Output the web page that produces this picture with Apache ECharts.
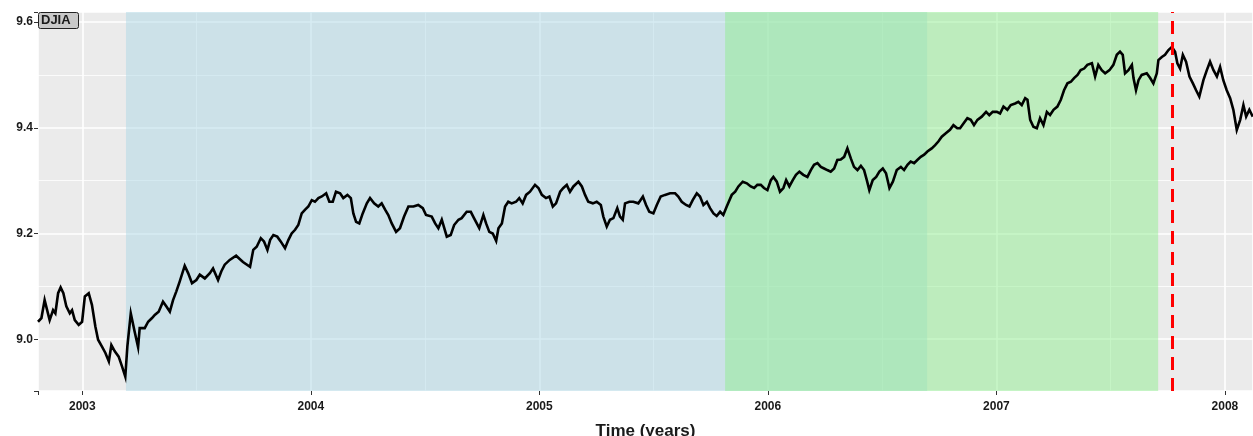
<!DOCTYPE html>
<html>
<head>
<meta charset="utf-8">
<script src="https://cdn.jsdelivr.net/npm/echarts@6/dist/echarts.min.js"></script>
<style>
  html, body { margin: 0; padding: 0; background: #fff; }
  #chart-container { width: 1253px; height: 436px; }
</style>
</head>
<body>
<div id="chart-container"></div>
<script>
// decimal years and log(DJIA)
var years = [
  2002.806, 2002.821, 2002.835, 2002.846, 2002.857, 2002.872, 2002.882, 2002.894, 2002.905, 2002.917,
  2002.930, 2002.945, 2002.955, 2002.967, 2002.984, 2002.999, 2003.011, 2003.028, 2003.042, 2003.057,
  2003.069, 2003.086, 2003.101, 2003.116, 2003.127, 2003.142, 2003.159, 2003.174, 2003.188, 2003.197,
  2003.212, 2003.229, 2003.244, 2003.251, 2003.273, 2003.288, 2003.305, 2003.317, 2003.334, 2003.353,
  2003.368, 2003.383, 2003.397, 2003.411, 2003.426, 2003.448, 2003.463, 2003.480, 2003.499, 2003.514,
  2003.536, 2003.558, 2003.572, 2003.594, 2003.608, 2003.623, 2003.645, 2003.673, 2003.703, 2003.734,
  2003.748, 2003.763, 2003.781, 2003.795, 2003.810, 2003.822, 2003.836, 2003.853, 2003.868, 2003.887,
  2003.902, 2003.916, 2003.931, 2003.945, 2003.960, 2003.975, 2003.989, 2004.004, 2004.018, 2004.033,
  2004.048, 2004.067, 2004.081, 2004.096, 2004.110, 2004.128, 2004.142, 2004.160, 2004.175, 2004.186,
  2004.198, 2004.212, 2004.227, 2004.245, 2004.259, 2004.277, 2004.295, 2004.310, 2004.325, 2004.339,
  2004.354, 2004.373, 2004.390, 2004.408, 2004.427, 2004.449, 2004.470, 2004.490, 2004.504, 2004.529,
  2004.544, 2004.558, 2004.573, 2004.595, 2004.612, 2004.627, 2004.646, 2004.660, 2004.682, 2004.700,
  2004.714, 2004.737, 2004.755, 2004.767, 2004.781, 2004.796, 2004.811, 2004.821, 2004.836, 2004.850,
  2004.864, 2004.879, 2004.898, 2004.912, 2004.927, 2004.942, 2004.959, 2004.981, 2004.996, 2005.011,
  2005.029, 2005.044, 2005.059, 2005.073, 2005.091, 2005.105, 2005.120, 2005.134, 2005.149, 2005.171,
  2005.186, 2005.200, 2005.214, 2005.234, 2005.251, 2005.269, 2005.280, 2005.295, 2005.309, 2005.324,
  2005.341, 2005.353, 2005.365, 2005.375, 2005.394, 2005.411, 2005.433, 2005.453, 2005.467, 2005.481,
  2005.499, 2005.514, 2005.531, 2005.550, 2005.572, 2005.594, 2005.608, 2005.623, 2005.642, 2005.657,
  2005.671, 2005.689, 2005.703, 2005.718, 2005.733, 2005.747, 2005.762, 2005.776, 2005.791, 2005.805,
  2005.820, 2005.842, 2005.857, 2005.871, 2005.890, 2005.908, 2005.925, 2005.940, 2005.954, 2005.969,
  2005.983, 2005.998, 2006.013, 2006.024, 2006.039, 2006.053, 2006.068, 2006.080, 2006.094, 2006.109,
  2006.123, 2006.138, 2006.155, 2006.173, 2006.188, 2006.202, 2006.217, 2006.232, 2006.246, 2006.260,
  2006.275, 2006.290, 2006.304, 2006.319, 2006.334, 2006.348, 2006.363, 2006.377, 2006.392, 2006.407,
  2006.421, 2006.433, 2006.444, 2006.459, 2006.474, 2006.488, 2006.503, 2006.517, 2006.532, 2006.547,
  2006.564, 2006.582, 2006.596, 2006.611, 2006.625, 2006.640, 2006.654, 2006.669, 2006.684, 2006.698,
  2006.717, 2006.732, 2006.746, 2006.761, 2006.780, 2006.797, 2006.812, 2006.829, 2006.841, 2006.856,
  2006.873, 2006.888, 2006.902, 2006.917, 2006.936, 2006.955, 2006.969, 2006.984, 2007.002, 2007.016,
  2007.031, 2007.048, 2007.063, 2007.082, 2007.096, 2007.111, 2007.126, 2007.136, 2007.148, 2007.162,
  2007.177, 2007.191, 2007.206, 2007.221, 2007.235, 2007.250, 2007.267, 2007.282, 2007.296, 2007.311,
  2007.326, 2007.340, 2007.355, 2007.369, 2007.384, 2007.398, 2007.418, 2007.432, 2007.446, 2007.461,
  2007.476, 2007.495, 2007.512, 2007.527, 2007.541, 2007.553, 2007.563, 2007.578, 2007.593, 2007.600,
  2007.611, 2007.622, 2007.636, 2007.658, 2007.673, 2007.687, 2007.702, 2007.709, 2007.724, 2007.738,
  2007.753, 2007.768, 2007.782, 2007.792, 2007.804, 2007.816, 2007.830, 2007.845, 2007.860, 2007.874,
  2007.888, 2007.906, 2007.921, 2007.935, 2007.950, 2007.965, 2007.979, 2007.993, 2008.008, 2008.023,
  2008.037, 2008.052, 2008.067, 2008.081, 2008.093, 2008.107, 2008.122
];
var djia = [
  9.033, 9.040, 9.074, 9.055, 9.036, 9.055, 9.049, 9.087, 9.098, 9.087,
  9.062, 9.049, 9.055, 9.036, 9.027, 9.033, 9.081, 9.087, 9.065, 9.024,
  8.999, 8.986, 8.974, 8.958, 8.989, 8.977, 8.967, 8.948, 8.929, 8.986,
  9.049, 9.014, 8.985, 9.021, 9.021, 9.033, 9.040, 9.046, 9.052, 9.071,
  9.062, 9.052, 9.074, 9.090, 9.109, 9.139, 9.125, 9.106, 9.112, 9.122,
  9.115, 9.125, 9.134, 9.112, 9.128, 9.141, 9.150, 9.158, 9.146, 9.137,
  9.169, 9.175, 9.191, 9.185, 9.169, 9.188, 9.197, 9.194, 9.185, 9.172,
  9.188, 9.200, 9.207, 9.216, 9.238, 9.245, 9.251, 9.263, 9.260, 9.267,
  9.270, 9.276, 9.260, 9.260, 9.279, 9.276, 9.267, 9.273, 9.267, 9.238,
  9.222, 9.219, 9.238, 9.257, 9.267, 9.257, 9.251, 9.257, 9.245, 9.235,
  9.219, 9.203, 9.210, 9.232, 9.251, 9.251, 9.254, 9.248, 9.235, 9.232,
  9.219, 9.210, 9.226, 9.194, 9.197, 9.216, 9.226, 9.229, 9.241, 9.241,
  9.229, 9.210, 9.235, 9.219, 9.203, 9.200, 9.186, 9.210, 9.219, 9.251,
  9.260, 9.257, 9.260, 9.267, 9.257, 9.273, 9.279, 9.292, 9.286, 9.273,
  9.267, 9.270, 9.251, 9.257, 9.279, 9.286, 9.292, 9.279, 9.289, 9.298,
  9.289, 9.273, 9.260, 9.257, 9.260, 9.254, 9.232, 9.213, 9.226, 9.229,
  9.248, 9.232, 9.226, 9.257, 9.260, 9.260, 9.257, 9.270, 9.254, 9.241,
  9.238, 9.254, 9.270, 9.273, 9.276, 9.276, 9.270, 9.260, 9.254, 9.251,
  9.263, 9.276, 9.270, 9.254, 9.260, 9.248, 9.238, 9.233, 9.241, 9.235,
  9.251, 9.273, 9.279, 9.289, 9.298, 9.295, 9.289, 9.286, 9.292, 9.292,
  9.286, 9.282, 9.301, 9.307, 9.298, 9.279, 9.286, 9.301, 9.289, 9.301,
  9.311, 9.317, 9.311, 9.307, 9.320, 9.330, 9.333, 9.326, 9.323, 9.320,
  9.317, 9.323, 9.339, 9.340, 9.345, 9.361, 9.342, 9.326, 9.320, 9.328,
  9.320, 9.301, 9.282, 9.301, 9.307, 9.317, 9.323, 9.314, 9.286, 9.298,
  9.320, 9.326, 9.320, 9.330, 9.336, 9.333, 9.339, 9.345, 9.349, 9.355,
  9.361, 9.367, 9.374, 9.383, 9.390, 9.396, 9.405, 9.399, 9.399, 9.408,
  9.418, 9.415, 9.405, 9.415, 9.421, 9.430, 9.424, 9.430, 9.430, 9.427,
  9.440, 9.434, 9.443, 9.446, 9.449, 9.443, 9.456, 9.453, 9.415, 9.402,
  9.399, 9.418, 9.405, 9.430, 9.424, 9.434, 9.440, 9.453, 9.471, 9.484,
  9.487, 9.494, 9.500, 9.509, 9.512, 9.519, 9.522, 9.497, 9.519, 9.509,
  9.503, 9.509, 9.519, 9.538, 9.544, 9.538, 9.503, 9.509, 9.519, 9.494,
  9.471, 9.490, 9.500, 9.503, 9.494, 9.484, 9.503, 9.528, 9.534, 9.538,
  9.547, 9.553, 9.544, 9.522, 9.512, 9.538, 9.525, 9.497, 9.484, 9.471,
  9.459, 9.490, 9.509, 9.525, 9.509, 9.497, 9.515, 9.490, 9.471, 9.456,
  9.434, 9.396, 9.415, 9.443, 9.421, 9.434, 9.421
];

// shaded periods and the peak marker
var phaseBlue = [2003.191, 2006.697];
var phaseGreen = [2005.813, 2007.708];
var peakDate = 2007.770;

var xRange = [2002.806, 2008.123];
var yRange = [8.902, 9.619];

var dom = document.getElementById('chart-container');
var myChart = echarts.init(dom, null, { renderer: 'canvas' });

var font = "'Liberation Sans', Arial, sans-serif";

function isStep(v, step) {
  var k = v / step;
  return Math.abs(k - Math.round(k)) < 1e-6;
}

var option = {
  animation: false,
  title: {
    text: 'DJIA',
    left: 38,
    top: 12,
    padding: [2, 8, 2, 3],
    backgroundColor: '#c9c9c9',
    borderColor: '#222',
    borderWidth: 1,
    borderRadius: 2,
    textStyle: { fontFamily: font, fontSize: 13, fontWeight: 'bold', color: '#1a1a1a' }
  },
  grid: {
    left: 38,
    right: 0,
    top: 12,
    bottom: 45,
    containLabel: false,
    outerBoundsMode: 'none',
    show: true,
    backgroundColor: '#ebebeb',
    borderWidth: 0
  },
  xAxis: {
    type: 'value',
    min: xRange[0],
    max: xRange[1],
    splitNumber: 5,
    name: 'Time (years)',
    nameLocation: 'middle',
    nameGap: 32,
    nameTextStyle: { fontFamily: font, fontSize: 17, fontWeight: 'bold', color: '#1a1a1a' },
    axisLine: { show: false },
    axisTick: { show: true, length: 4, lineStyle: { color: '#333', width: 1 } },
    axisLabel: {
      margin: 10,
      fontFamily: font,
      fontSize: 12,
      fontWeight: 'bold',
      color: '#1a1a1a',
      formatter: function (v) { return isStep(v, 1) ? String(Math.round(v)) : ''; }
    },
    splitLine: { show: true, lineStyle: { color: '#ffffff', width: 1.6 } },
    minorTick: { show: false, splitNumber: 2 },
    minorSplitLine: { show: true, lineStyle: { color: '#ffffff', width: 0.8 } }
  },
  yAxis: {
    type: 'value',
    min: yRange[0],
    max: yRange[1],
    splitNumber: 3,
    axisLine: { show: false },
    axisTick: { show: true, length: 4, lineStyle: { color: '#333', width: 1 } },
    axisLabel: {
      margin: 5,
      fontFamily: font,
      fontSize: 12,
      fontWeight: 'bold',
      color: '#1a1a1a',
      formatter: function (v) { return isStep(v, 0.2) ? v.toFixed(1) : ''; }
    },
    splitLine: { show: true, lineStyle: { color: '#ffffff', width: 1.6 } },
    minorTick: { show: false, splitNumber: 2 },
    minorSplitLine: { show: true, lineStyle: { color: '#ffffff', width: 0.8 } }
  },
  series: [
    {
      name: 'periods',
      type: 'line',
      data: [],
      z: 1,
      silent: true,
      markArea: {
        silent: true,
        data: [
          [
            { xAxis: phaseBlue[0], itemStyle: { color: 'rgba(173,216,230,0.5)' } },
            { xAxis: phaseBlue[1] }
          ],
          [
            { xAxis: phaseGreen[0], itemStyle: { color: 'rgba(144,238,144,0.5)' } },
            { xAxis: phaseGreen[1] }
          ]
        ]
      }
    },
    {
      name: 'DJIA',
      type: 'line',
      z: 3,
      showSymbol: false,
      data: years.map(function (t, i) { return [t, djia[i]]; }),
      lineStyle: { color: '#000', width: 2.6, join: 'miter' },
      markLine: {
        silent: true,
        symbol: ['none', 'none'],
        label: { show: false },
        lineStyle: { color: '#ff0000', width: 3, type: [13, 8] },
        data: [{ xAxis: peakDate }]
      }
    }
  ]
};

myChart.setOption(option);

window.addEventListener('resize', myChart.resize);
</script>
</body>
</html>
